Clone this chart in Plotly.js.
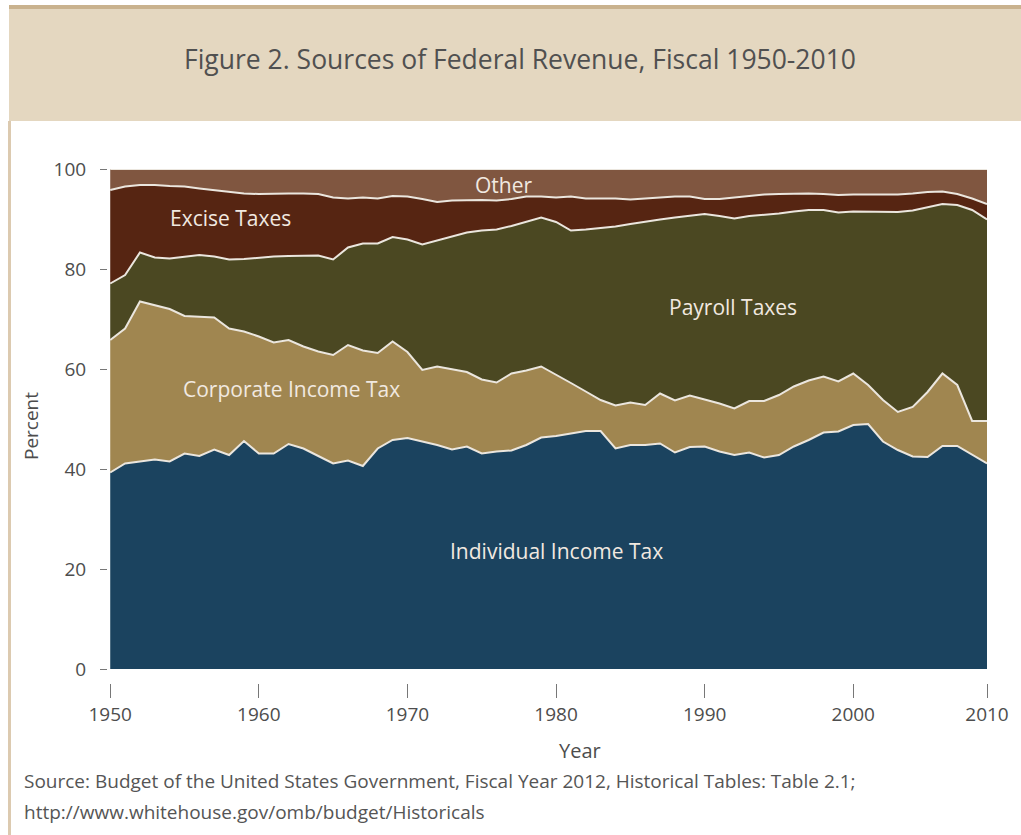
<!DOCTYPE html>
<html>
<head>
<meta charset="utf-8">
<script src="https://cdn.plot.ly/plotly-3.0.1.min.js"></script>
<style>
html,body{margin:0;padding:0;background:#ffffff;}
#wrap{position:relative;width:1021px;height:835px;overflow:hidden;background:#fff;}
#topline{position:absolute;left:9px;top:5px;width:1012px;height:4px;background:#c9b28e;}
#banner{position:absolute;left:9px;top:9px;width:1012px;height:112px;background:#e4d7c0;}
#leftline{position:absolute;left:8px;top:121px;width:3px;height:714px;background:#dccab0;}
#chart{position:absolute;left:0;top:0;width:1021px;height:835px;}
</style>
</head>
<body>
<div id="wrap">
  <div id="topline"></div>
  <div id="banner"></div>
  <div id="leftline"></div>
  <div id="chart"></div>
</div>
<script>
// Fiscal years as plotted in the reference (60 points; the picture has no separate 2006 point)
const years = ['1950','1951','1952','1953','1954','1955','1956','1957','1958','1959',
  '1960','1961','1962','1963','1964','1965','1966','1967','1968','1969',
  '1970','1971','1972','1973','1974','1975','1976','1977','1978','1979',
  '1980','1981','1982','1983','1984','1985','1986','1987','1988','1989',
  '1990','1991','1992','1993','1994','1995','1996','1997','1998','1999',
  '2000','2001','2002','2003','2004','2005','2007','2008','2009','2010'];

// Percent of federal revenue by source
const individualIncomeTax = [39.3,41.1,41.5,41.9,41.5,43.1,42.6,43.9,42.8,45.6,
  43.1,43.1,45.0,44.1,42.6,41.1,41.7,40.6,44.1,45.8,
  46.2,45.5,44.8,43.9,44.5,43.1,43.5,43.7,44.8,46.3,
  46.6,47.1,47.6,47.6,44.1,44.8,44.8,45.1,43.3,44.4,
  44.5,43.5,42.8,43.3,42.3,42.8,44.5,45.8,47.3,47.5,
  48.8,49.0,45.5,43.8,42.5,42.4,44.6,44.6,42.9,41.1];

const corporateIncomeTax = [26.5,27.0,32.0,30.8,30.5,27.5,27.9,26.4,25.3,21.9,
  23.4,22.2,20.8,20.4,20.9,21.7,23.1,23.1,19.1,19.7,
  17.2,14.3,15.7,16.0,14.9,14.8,13.8,15.4,14.9,14.2,
  12.3,10.1,7.9,6.2,8.6,8.5,8.0,10.0,10.4,10.3,
  9.4,9.6,9.3,10.3,11.3,12.0,12.0,11.9,11.2,10.0,
  10.3,7.8,8.3,7.6,9.9,13.0,14.5,12.2,6.7,8.5];

const payrollTaxes = [11.3,10.7,9.8,9.6,10.1,11.9,12.3,12.2,13.8,14.5,
  15.8,17.2,16.8,18.2,19.2,19.1,19.5,21.4,21.9,20.9,
  22.5,25.1,25.2,26.7,27.9,29.8,30.6,29.5,29.8,29.8,
  30.5,30.5,32.4,34.4,35.8,35.7,36.7,34.8,36.6,35.9,
  37.1,37.5,38.0,37.0,37.2,36.3,35.0,34.1,33.3,33.8,
  32.4,34.7,37.7,40.0,39.3,36.9,33.9,36.0,42.2,40.3];

const exciseTaxes = [18.7,17.7,13.5,14.5,14.5,14.0,13.3,13.3,13.6,13.1,
  12.7,12.6,12.5,12.4,12.3,12.4,9.8,9.2,9.0,8.2,
  8.6,9.1,7.7,7.1,6.5,6.1,5.8,5.4,5.0,4.2,
  4.9,6.8,6.2,5.9,5.6,4.9,4.6,4.4,4.2,3.9,
  3.0,3.4,4.2,4.0,4.1,3.9,3.6,3.3,3.2,3.5,
  3.4,3.4,3.4,3.5,3.4,3.1,2.5,2.2,2.3,3.1];

const other = [4.2,3.5,3.2,3.2,3.4,3.5,3.9,4.2,4.5,4.9,
  5.0,4.9,4.9,4.9,5.0,5.7,5.9,5.7,5.9,5.4,
  5.5,6.0,6.6,6.3,6.2,6.2,6.3,6.0,5.5,5.5,
  5.7,5.5,5.9,5.9,5.9,6.1,5.9,5.7,5.5,5.5,
  6.0,6.0,5.7,5.4,5.1,5.0,4.9,4.9,5.0,5.2,
  5.1,5.1,5.1,5.1,4.9,4.6,4.5,5.0,5.9,7.0];

const seriesNames = ['Individual Income Tax','Corporate Income Tax','Payroll Taxes','Excise Taxes','Other'];
const tickYears = ['1950','1960','1970','1980','1990','2000','2010'];
const yTicks = [0,20,40,60,80,100];

const FONT = '"Open Sans", "Noto Sans", sans-serif';
const colors = ['#1b435f','#a08650','#4b4822','#562512','#805640'];
const allSeries = [individualIncomeTax, corporateIncomeTax, payrollTaxes, exciseTaxes, other];

const traces = allSeries.map((vals, i) => ({
  type: 'scatter',
  mode: 'lines',
  name: seriesNames[i],
  x: years,
  y: vals,
  stackgroup: 'one',
  fillcolor: colors[i],
  line: {color: '#ebe6de', width: 2, shape: 'linear'},
  hoverinfo: 'x+y+name'
}));

const labelColor = '#f1e9e0';
const labelFont = {family: FONT, size: 21, color: labelColor};
const axisFont = {family: FONT, size: 19, color: '#4d4d4d'};

const layout = {
  width: 1021,
  height: 835,
  margin: {l: 108, r: 34, t: 169, b: 152},
  paper_bgcolor: 'rgba(0,0,0,0)',
  plot_bgcolor: 'rgba(0,0,0,0)',
  showlegend: false,
  title: {
    text: 'Figure 2. Sources of Federal Revenue, Fiscal 1950-2010',
    font: {family: FONT, size: 26.5, color: '#505050'},
    xref: 'container', yref: 'container',
    x: 520/1021, y: 1 - 60/835,
    xanchor: 'center', yanchor: 'middle'
  },
  xaxis: {
    type: 'category',
    range: [-0.15, 59],
    tickmode: 'array',
    tickvals: tickYears,
    ticktext: tickYears,
    ticks: 'outside',
    ticklen: 14,
    tickwidth: 1,
    tickcolor: '#777777',
    showgrid: false,
    zeroline: false,
    showline: false,
    tickfont: axisFont
  },
  yaxis: {
    range: [-2.8, 100],
    tickmode: 'array',
    tickvals: yTicks,
    ticks: 'outside',
    ticklen: 7,
    tickwidth: 1,
    tickcolor: '#777777',
    ticklabelstandoff: 10,
    showgrid: false,
    zeroline: false,
    showline: false,
    tickfont: axisFont,
    title: {text: 'Percent', font: axisFont, standoff: 9}
  },
  annotations: [
    {text: 'Other', x: 26.44, y: 96.8, xref: 'x', yref: 'y', showarrow: false, font: labelFont},
    {text: 'Excise Taxes', x: 8.07, y: 90.2, xref: 'x', yref: 'y', showarrow: false, font: labelFont},
    {text: 'Payroll Taxes', x: 41.9, y: 72.4, xref: 'x', yref: 'y', showarrow: false, font: labelFont},
    {text: 'Corporate Income Tax', x: 12.18, y: 56.0, xref: 'x', yref: 'y', showarrow: false, font: labelFont},
    {text: 'Individual Income Tax', x: 30.0, y: 23.6, xref: 'x', yref: 'y', showarrow: false, font: labelFont},
    {text: 'Year', x: (580-108)/879, y: -67/514, xref: 'paper', yref: 'paper', xanchor: 'center', yanchor: 'middle', showarrow: false,
      font: {family: FONT, size: 20, color: '#4d4d4d'}},
    {text: 'Source: Budget of the United States Government, Fiscal Year 2012, Historical Tables: Table 2.1;',
      x: (22-108)/879, y: -98/514, xref: 'paper', yref: 'paper', xanchor: 'left', yanchor: 'middle', showarrow: false,
      font: {family: FONT, size: 19, color: '#555555'}},
    {text: 'http://www.whitehouse.gov/omb/budget/Historicals',
      x: (22-108)/879, y: -129/514, xref: 'paper', yref: 'paper', xanchor: 'left', yanchor: 'middle', showarrow: false,
      font: {family: FONT, size: 19, color: '#555555'}}
  ]
};

Plotly.newPlot('chart', traces, layout, {displayModeBar: false});
</script>
</body>
</html>
